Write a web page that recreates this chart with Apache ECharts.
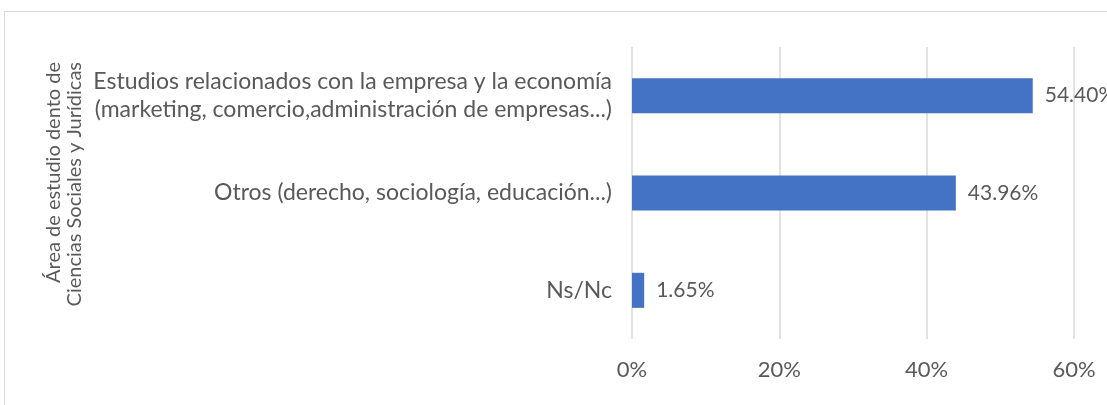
<!DOCTYPE html>
<html>
<head>
<meta charset="utf-8">
<script src="https://cdn.jsdelivr.net/npm/echarts@6/dist/echarts.min.js"></script>
<style>
  html, body { margin: 0; padding: 0; background: #fff; }
  #chart { width: 1107px; height: 405px; }
</style>
</head>
<body>
<div id="chart"></div>
<script>
// categories (top to bottom)
const categories = [
  "Estudios relacionados con la empresa y la economía\n(marketing, comercio,administración de empresas...)",
  "Otros (derecho, sociología, educación...)",
  "Ns/Nc",
];
const values = [54.4, 43.96, 1.65];
const xTicks = [0, 20, 40, 60];
const axisName = "Área de estudio dento de\nCiencias Sociales y Jurídicas";

const font = "Lato";
const textColor = "#595959";

const myChart = echarts.init(document.getElementById("chart"));
let option = {
  animation: false,
  textStyle: { fontFamily: font },
  graphic: [
    {
      type: "rect",
      shape: { x: 4.5, y: 11.5, width: 1200, height: 500 },
      style: { fill: "none", stroke: "#d9d9d9", lineWidth: 1 },
      silent: true,
    },
    {
      // eje Y: nombre en dos lineas, rotado
      type: "text",
      x: 64,
      y: 62,
      rotation: Math.PI / 2,
      silent: true,
      style: {
        text: axisName,
        fill: textColor,
        font: "20px " + font,
        lineHeight: 21,
        align: "right",
        verticalAlign: "middle",
      },
    },
  ],
  grid: {
    left: 632,
    right: 33,
    top: 47,
    bottom: 66,
  },
  xAxis: {
    type: "value",
    min: xTicks[0],
    max: xTicks[xTicks.length - 1],
    interval: 20,
    axisLine: { show: false },
    axisTick: { show: false },
    splitLine: { show: true, lineStyle: { color: "#d9d9d9", width: 1.5 } },
    axisLabel: {
      color: textColor,
      fontSize: 22,
      fontFamily: font,
      margin: 20,
      formatter: function (v) {
        return v + "%";
      },
    },
  },
  yAxis: {
    type: "category",
    inverse: true,
    data: categories,
    axisLine: { show: false },
    axisTick: { show: false },
    axisLabel: {
      color: textColor,
      fontSize: 23,
      fontFamily: font,
      lineHeight: 28,
      align: "right",
      margin: 20,
    },
  },
  series: [
    {
      type: "bar",
      data: values,
      barWidth: "36%",
      itemStyle: { color: "#4472C4" },
      label: {
        show: true,
        position: "right",
        distance: 12,
        color: textColor,
        fontSize: 21,
        fontFamily: font,
        formatter: function (p) {
          return p.value.toFixed(2) + "%";
        },
      },
    },
  ],
};
option && myChart.setOption(option);
</script>
</body>
</html>
